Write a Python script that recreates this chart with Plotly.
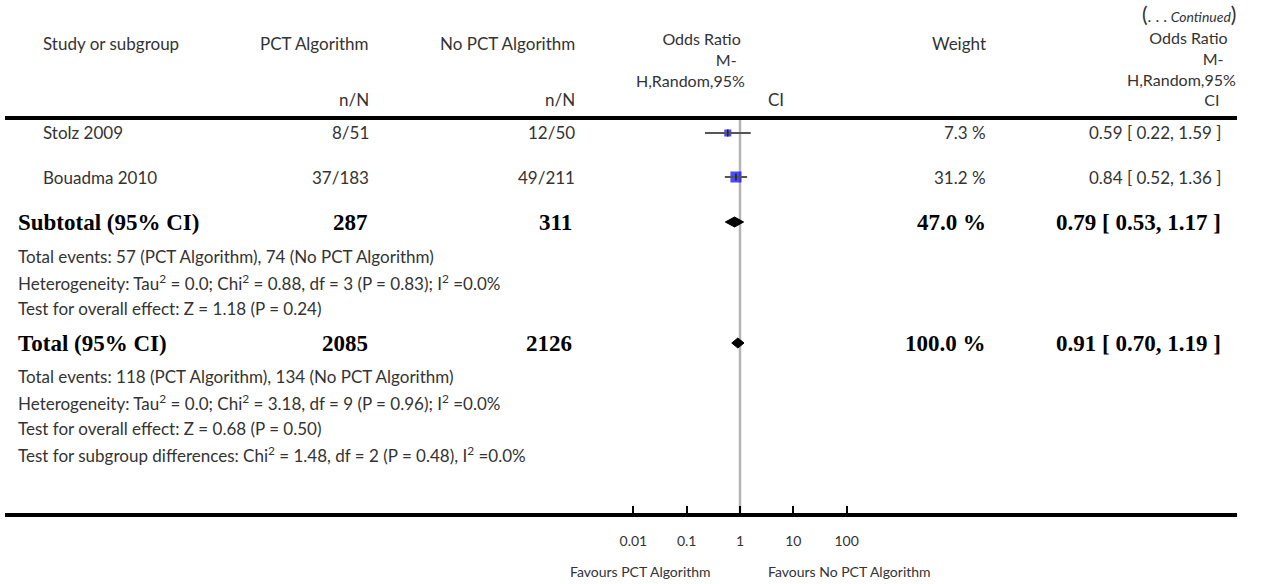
import math
import plotly.graph_objects as go

W, H = 1268, 584

# ---------------- data ----------------
studies = ["Stolz 2009", "Bouadma 2010"]
pct_nN = ["8/51", "37/183"]
nopct_nN = ["12/50", "49/211"]
weights = [7.3, 31.2]
or_est = [0.59, 0.84]
or_lo = [0.22, 0.52]
or_hi = [1.59, 1.36]

summary_labels = ["Subtotal (95% CI)", "Total (95% CI)"]
summary_pct_N = ["287", "2085"]
summary_nopct_N = ["311", "2126"]
summary_weight = [47.0, 100.0]
summary_est = [0.79, 0.91]
summary_lo = [0.53, 0.70]
summary_hi = [1.17, 1.19]

subtotal_notes = [
    "Total events: 57 (PCT Algorithm), 74 (No PCT Algorithm)",
    "Heterogeneity: Tau<sup>2</sup> = 0.0; Chi<sup>2</sup> = 0.88, df = 3 (P = 0.83); I<sup>2</sup> =0.0%",
    "Test for overall effect: Z = 1.18 (P = 0.24)",
]
total_notes = [
    "Total events: 118 (PCT Algorithm), 134 (No PCT Algorithm)",
    "Heterogeneity: Tau<sup>2</sup> = 0.0; Chi<sup>2</sup> = 3.18, df = 9 (P = 0.96); I<sup>2</sup> =0.0%",
    "Test for overall effect: Z = 0.68 (P = 0.50)",
    "Test for subgroup differences: Chi<sup>2</sup> = 1.48, df = 2 (P = 0.48), I<sup>2</sup> =0.0%",
]

tick_vals = [0.01, 0.1, 1, 10, 100]
tick_text = ["0.01", "0.1", "1", "10", "100"]

# ---------------- layout constants (pixels) ----------------
X_ONE = 740.0          # pixel of OR = 1
PX_DEC = 53.3          # pixels per decade
LINE_L, LINE_R = 5.0, 1237.0
AXIS_Y = 513.0
HEAD_LINE_Y = 118.0

study_rows = [133, 177]
summary_rows = [222, 343]
subtotal_note_rows = [256, 282, 308]
total_note_rows = [376, 402, 428, 454]

COL_NAME = 42
COL_SUM = 17
COL_PCT = 370
COL_NOPCT = 576
COL_WEIGHT = 987
COL_OR = 1222

SANS = "Lato, 'Open Sans', sans-serif"
NORMAL_FONT = dict(family=SANS, size=17, color="#333333")
HEAD_FONT = dict(family=SANS, size=16, color="#333333")
BOLD_FONT = dict(family="'Liberation Serif', 'DejaVu Serif', serif", size=23, color="#000000")
SMALL_FONT = dict(family=SANS, size=14, color="#333333")


def px(x):
    return x / W


def py(y):
    return 1 - y / H


annotations = []


def text(x, y, s, anchor="left", font=None, align=None):
    a = dict(
        x=px(x), y=py(y), xref="paper", yref="paper", text=s,
        showarrow=False, xanchor=anchor, yanchor="middle",
        font=font or NORMAL_FONT, borderpad=0,
    )
    if align:
        a["align"] = align
    annotations.append(a)


# header
text(LINE_R, 14,
     "<span style='font-size:21px'>(</span><span style='font-size:16px'>. . .</span> "
     "<i>Continued</i><span style='font-size:21px'>)</span>", "right",
     dict(family=SANS, size=14, color="#333333"))
text(42, 43, "Study or subgroup")
text(COL_PCT, 43, "PCT Algorithm", "right")
text(COL_NOPCT, 43, "No PCT Algorithm", "right")
text(COL_PCT, 99, "n/N", "right")
text(COL_NOPCT, 99, "n/N", "right")
# forest-plot column header (wrapped, as in the source)
text(746, 60, "Odds Ratio&nbsp;<br>M-&nbsp;&nbsp;<br>H,Random,95%", "right", HEAD_FONT, "right")
text(767, 99, "CI", "left")
text(COL_WEIGHT, 43, "Weight", "right")
text(1237, 68,
     "Odds Ratio&nbsp;&nbsp;<br>M-&nbsp;&nbsp;&nbsp;<br>H,Random,95%<br>CI&nbsp;&nbsp;&nbsp;&nbsp;",
     "right", HEAD_FONT, "right")

# study rows
for i, name in enumerate(studies):
    y = study_rows[i]
    text(COL_NAME, y, name)
    text(COL_PCT, y, pct_nN[i], "right")
    text(COL_NOPCT, y, nopct_nN[i], "right")
    text(COL_WEIGHT, y, f"{weights[i]:.1f} %", "right")
    text(COL_OR, y, f"{or_est[i]:.2f} [ {or_lo[i]:.2f}, {or_hi[i]:.2f} ]", "right")

# summary rows (bold)
for i, lab in enumerate(summary_labels):
    y = summary_rows[i]
    text(COL_SUM, y, f"<b>{lab}</b>", "left", BOLD_FONT)
    text(COL_PCT - 1, y, f"<b>{summary_pct_N[i]}</b>", "right", BOLD_FONT)
    text(COL_NOPCT - 3, y, f"<b>{summary_nopct_N[i]}</b>", "right", BOLD_FONT)
    text(COL_WEIGHT, y, f"<b>{summary_weight[i]:.1f} %</b>", "right", BOLD_FONT)
    text(COL_OR, y, f"<b>{summary_est[i]:.2f} [ {summary_lo[i]:.2f}, {summary_hi[i]:.2f} ]</b>",
         "right", BOLD_FONT)

for s, y in zip(subtotal_notes, subtotal_note_rows):
    text(COL_SUM, y, s)
for s, y in zip(total_notes, total_note_rows):
    text(COL_SUM, y, s)

# axis foot labels
text(712, 571, "Favours PCT Algorithm", "right", SMALL_FONT)
text(767, 571, "Favours No PCT Algorithm", "left", SMALL_FONT)

# ---------------- traces ----------------
fig = go.Figure()

# squares sized by weight
sizes = [1.384 * math.sqrt(w) + 3.3 for w in weights]
fig.add_trace(go.Scatter(
    x=or_est, y=study_rows, mode="markers",
    marker=dict(symbol="square", size=sizes, color="#0000ff", line=dict(width=0)),
    hoverinfo="skip", showlegend=False))

# confidence intervals
for i in range(len(studies)):
    fig.add_trace(go.Scatter(
        x=[or_lo[i], or_hi[i]], y=[study_rows[i], study_rows[i]], mode="lines",
        line=dict(color="#555555", width=2), hoverinfo="skip", showlegend=False))

# point-estimate tick
fig.add_trace(go.Scatter(
    x=or_est, y=study_rows, mode="markers",
    marker=dict(symbol="line-ns", size=5, line=dict(width=1.5, color="#222222")),
    hoverinfo="skip", showlegend=False))

# diamonds
HALF_H = 5
for i in range(len(summary_labels)):
    y = summary_rows[i]
    fig.add_trace(go.Scatter(
        x=[summary_lo[i], summary_est[i], summary_hi[i], summary_est[i], summary_lo[i]],
        y=[y, y - HALF_H, y, y + HALF_H, y],
        mode="lines", fill="toself", fillcolor="#000000",
        line=dict(color="#000000", width=1), hoverinfo="skip", showlegend=False))

# x range in log10 units so that OR=1 sits at X_ONE
dom_l, dom_r = px(LINE_L), px(LINE_R)
r0 = (LINE_L - X_ONE) / PX_DEC
r1 = (LINE_R - X_ONE) / PX_DEC

shapes = [
    dict(type="line", xref="paper", yref="paper", x0=px(LINE_L), x1=px(LINE_R),
         y0=py(HEAD_LINE_Y), y1=py(HEAD_LINE_Y), line=dict(color="#000000", width=4)),
    dict(type="line", xref="x", yref="y", x0=1, x1=1, y0=HEAD_LINE_Y + 2, y1=AXIS_Y,
         line=dict(color="#b4b4b4", width=2.5), layer="below"),
]

fig.update_layout(
    width=W, height=H, margin=dict(l=0, r=0, t=0, b=0),
    paper_bgcolor="#ffffff", plot_bgcolor="#ffffff",
    showlegend=False,
    xaxis=dict(type="log", range=[r0, r1], domain=[dom_l, dom_r],
               showgrid=False, zeroline=False, showline=True, linecolor="#000000", linewidth=4,
               ticks="inside", ticklen=7, tickwidth=2, tickcolor="#000000",
               tickvals=tick_vals, ticktext=tick_text, ticklabelstandoff=12,
               tickfont=SMALL_FONT, fixedrange=True),
    yaxis=dict(range=[AXIS_Y, 0], domain=[1 - AXIS_Y / H, 1], visible=False, fixedrange=True),
    annotations=annotations,
    shapes=shapes,
)

fig.write_html("out.html")
